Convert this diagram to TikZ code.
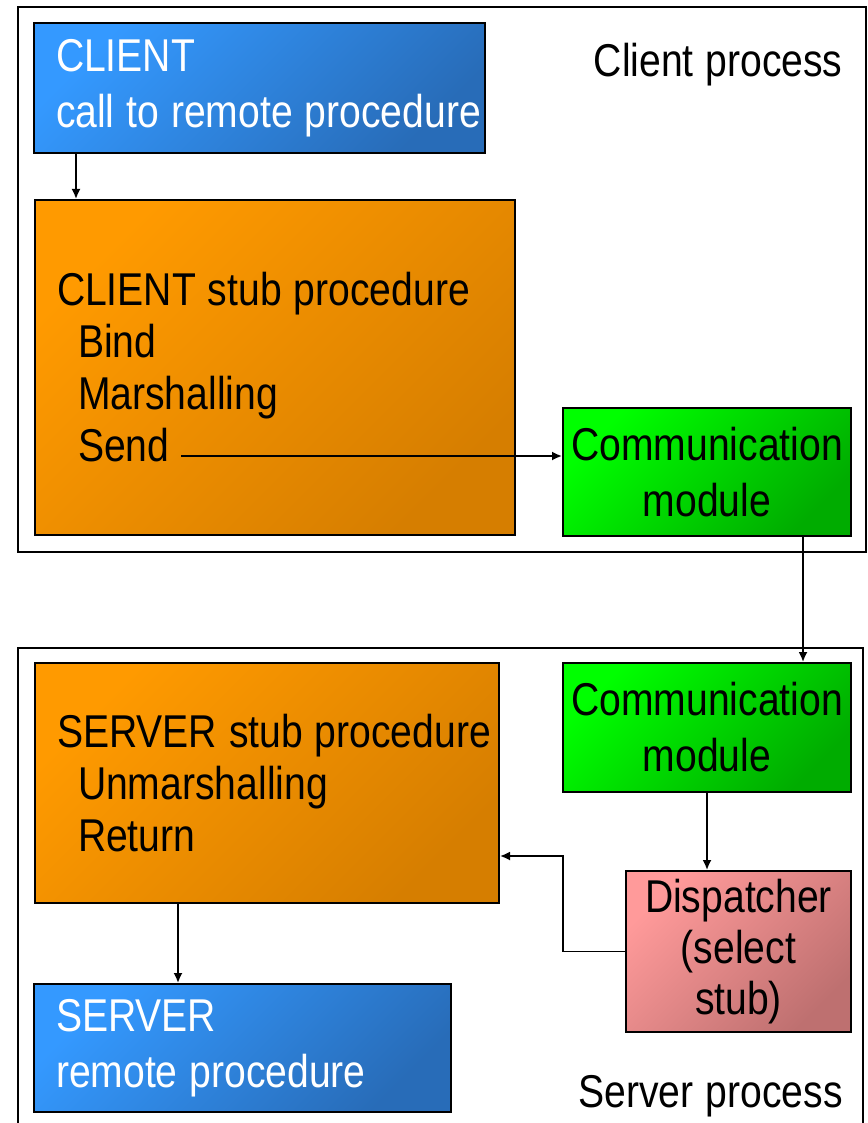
\documentclass[tikz,border=0pt]{standalone}
\usepackage{fontspec}
\setmainfont{Liberation Sans}[FakeStretch=0.85,WordSpace=1.1]
\usepackage{tikz}
\usetikzlibrary{arrows.meta}
\usepackage{xcolor}

\definecolor{blueA}{RGB}{52,153,255}
\definecolor{blueB}{RGB}{40,108,184}
\definecolor{orangeA}{RGB}{255,154,0}
\definecolor{orangeB}{RGB}{214,126,0}
\definecolor{greenA}{RGB}{0,255,0}
\definecolor{greenB}{RGB}{0,172,0}
\definecolor{pinkA}{RGB}{255,154,154}
\definecolor{pinkB}{RGB}{190,112,112}

\begin{document}
\begin{tikzpicture}[x=0.5pt,y=-0.5pt]
  \tikzset{box/.style = {shape=rectangle,draw,line width=1pt,inner xsep=11pt,inner ysep=0pt,font=\fontsize{23pt}{26pt}\selectfont,
    execute at begin node={\spaceskip=0pt\xspaceskip=0pt}}}
  \tikzset{callbox/.style = {box,top color=blueA,bottom color=blueB,shading angle=45,text=white,align=left,font=\fontsize{23pt}{28pt}\selectfont}}
  \tikzset{stubbox/.style = {box,top color=orangeA,bottom color=orangeB,shading angle=45,align=left}}
  \tikzset{commbox/.style = {box,top color=greenA,bottom color=greenB,shading angle=45,align=center,inner xsep=2pt,font=\fontsize{23pt}{28pt}\selectfont}}
  \tikzset{dispbox/.style = {box,top color=pinkA,bottom color=pinkB,shading angle=45,align=center,inner xsep=2pt,font=\fontsize{23pt}{25.5pt}\selectfont}}
  \tikzset{procframe/.style = {draw,line width=1pt}}
  \tikzset{proclabel/.style = {anchor=base east,inner sep=0pt,font=\fontsize{23pt}{26pt}\selectfont}}
  \tikzset{tipA/.tip={Latex[length=5pt,width=4.5pt]}}
  \tikzset{edge/.style = {-tipA,line width=0.9pt}}

  \useasboundingbox (0,0) rectangle (867,1123);
  \clip (0,0) rectangle (867,1123);

  % process frames
  \draw[procframe] (18,7) rectangle (866,552);
  \draw[procframe] (18,648) rectangle (863,1140);
  \node[proclabel] (clientlbl) at (843,77) {Client process};
  \node[proclabel] (serverlbl) at (843,1107) {Server process};

  % client side
  \node[callbox, minimum width=225.5pt, minimum height=65pt, text width=203.5pt] (ccall) at (259.5,88)
    {CLIENT\\\mbox{call to remote procedure}};
  \node[stubbox, minimum width=240pt, minimum height=167.5pt, text width=218pt] (cstub) at (275,367.5)
    {CLIENT stub procedure\\\hspace*{10.5pt}Bind\\\hspace*{10.5pt}Marshalling\\\hspace*{10.5pt}Send};
  \node[commbox, minimum width=144pt, minimum height=64pt] (ccomm) at (707,472) {Communication\\module};

  % server side
  \node[commbox, minimum width=144pt, minimum height=64.5pt] (scomm) at (707,727.5) {Communication\\module};
  \node[stubbox, minimum width=232pt, minimum height=120pt, text width=210pt] (sstub) at (267,783)
    {\mbox{SERVER stub procedure}\\\hspace*{10.5pt}Unmarshalling\\\hspace*{10.5pt}Return};
  \node[dispbox, minimum width=112.5pt, minimum height=80.5pt] (disp) at (738.5,951.5) {Dispatcher\\(select\\stub)};
  \node[callbox, minimum width=208.5pt, minimum height=64pt, text width=186.5pt] (sproc) at (242.5,1048)
    {SERVER\\remote procedure};

  \coordinate (calltail) at ([xshift=21.5pt]ccall.south west);
  \coordinate (sendtail) at (181,456);
  \coordinate (netline) at ([xshift=48pt]ccomm.south);
  \coordinate (knee) at (563,856);
  \coordinate (stubtail) at ([xshift=72pt]sstub.south west);

  \draw[edge] (calltail) -- (calltail |- cstub.north);
  \draw[edge] (sendtail) -- (sendtail -| ccomm.west);
  \draw[edge] (netline) -- (netline |- scomm.north);
  \draw[edge] (scomm.south) -- (scomm.south |- disp.north);
  \draw[edge] (disp.west) -| (knee) -- (knee -| sstub.east);
  \draw[edge] (stubtail) -- (stubtail |- sproc.north);

\end{tikzpicture}
\end{document}
